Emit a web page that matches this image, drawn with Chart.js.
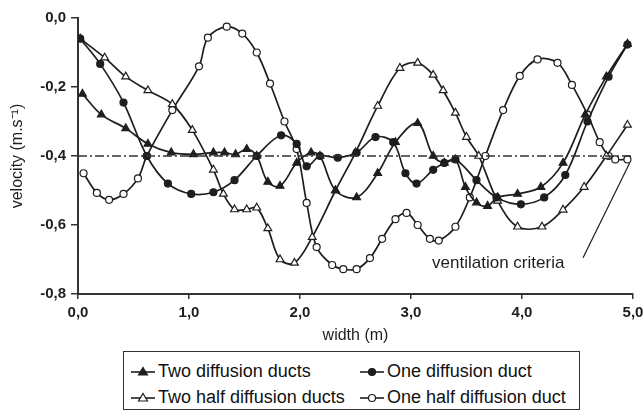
<!DOCTYPE html>
<html>
<head>
<meta charset="utf-8">
<script src="https://cdn.jsdelivr.net/npm/chart.js@4.4.1/dist/chart.umd.min.js"></script>
<style>
  body { margin: 0; background: #fff; font-family: "Liberation Sans", Arial, sans-serif; }
  #wrap { position: relative; width: 643px; height: 412px; }
  #chart { position: absolute; left: 0; top: 0; }
  .legend { position: absolute; left: 123px; top: 351px; width: 457px; height: 59px;
            border: 1.5px solid #333; box-sizing: border-box; color: #111; font-size: 18px; }
  .item { position: absolute; display: flex; align-items: center; white-space: nowrap; }
  .item svg { margin-right: 3px; }
</style>
</head>
<body>
<div id="wrap">
  <canvas id="chart" width="643" height="345"></canvas>
  <div class="legend" id="legend"></div>
</div>
<script>
// width positions (m) and velocities (m/s)
const twoDuctsX = [0.04,0.21,0.43,0.63,0.84,1.04,1.22,1.32,1.42,1.52,1.61,1.71,1.82,1.97,2.10,2.18,2.32,2.51,2.70,2.86,3.06,3.20,3.30,3.40,3.49,3.59,3.69,3.78,3.96,4.17,4.37,4.57,4.76,4.95];
const twoDuctsY = [-0.22,-0.28,-0.32,-0.365,-0.39,-0.395,-0.39,-0.39,-0.395,-0.38,-0.40,-0.475,-0.487,-0.42,-0.39,-0.40,-0.50,-0.52,-0.45,-0.36,-0.305,-0.40,-0.42,-0.41,-0.49,-0.535,-0.545,-0.52,-0.51,-0.49,-0.42,-0.28,-0.17,-0.075];

const oneDuctX = [0.02,0.20,0.41,0.62,0.81,1.02,1.22,1.41,1.61,1.83,1.97,2.06,2.18,2.34,2.51,2.68,2.84,2.95,3.05,3.20,3.30,3.40,3.59,3.77,3.99,4.20,4.39,4.59,4.78,4.95];
const oneDuctY = [-0.06,-0.133,-0.245,-0.40,-0.48,-0.51,-0.505,-0.47,-0.40,-0.34,-0.365,-0.43,-0.40,-0.405,-0.39,-0.345,-0.36,-0.45,-0.48,-0.44,-0.42,-0.41,-0.47,-0.52,-0.54,-0.52,-0.455,-0.30,-0.17,-0.077];

const twoHalfX = [0.02,0.24,0.43,0.63,0.85,1.03,1.22,1.31,1.41,1.52,1.61,1.71,1.82,1.95,2.11,2.32,2.50,2.70,2.90,3.06,3.20,3.29,3.40,3.50,3.61,3.78,3.96,4.18,4.37,4.56,4.76,4.95];
const twoHalfY = [-0.06,-0.115,-0.17,-0.21,-0.25,-0.325,-0.44,-0.51,-0.555,-0.555,-0.55,-0.61,-0.70,-0.71,-0.635,-0.50,-0.39,-0.255,-0.145,-0.13,-0.165,-0.21,-0.275,-0.345,-0.40,-0.53,-0.605,-0.605,-0.556,-0.49,-0.40,-0.31];

const oneHalfX = [0.05,0.17,0.28,0.41,0.54,0.62,0.85,1.09,1.17,1.34,1.48,1.61,1.73,1.86,1.97,2.06,2.15,2.29,2.39,2.51,2.63,2.74,2.86,2.96,3.06,3.17,3.25,3.40,3.53,3.67,3.83,3.98,4.14,4.32,4.45,4.59,4.70,4.78,4.84,4.95];
const oneHalfY = [-0.45,-0.507,-0.527,-0.51,-0.465,-0.40,-0.267,-0.14,-0.057,-0.025,-0.045,-0.10,-0.19,-0.30,-0.38,-0.536,-0.664,-0.716,-0.728,-0.728,-0.696,-0.64,-0.583,-0.565,-0.60,-0.64,-0.645,-0.605,-0.52,-0.40,-0.267,-0.168,-0.12,-0.13,-0.194,-0.28,-0.36,-0.40,-0.41,-0.41];

const criteriaX = [0, 5];
const criteriaY = [-0.4, -0.4];
const pointerX = [4.55, 4.97];
const pointerY = [-0.695, -0.42];

const seriesNames = ['Two diffusion ducts', 'One diffusion duct', 'Two half diffusion ducts', 'One half diffusion duct'];
const xTicks = [0, 1, 2, 3, 4, 5];
const yTicks = [0, -0.2, -0.4, -0.6, -0.8];

const ink = '#1e1e1e';
const pts = (xs, ys) => xs.map((x, i) => ({ x: x, y: ys[i] }));
const fmt = v => (Math.abs(v) < 1e-9 ? 0 : v).toFixed(1).replace('.', ',');

const styles = [
  { pointStyle: 'triangle', radius: 4.5, fill: ink },
  { pointStyle: 'circle', radius: 3.5, fill: ink },
  { pointStyle: 'triangle', radius: 4.5, fill: '#fff' },
  { pointStyle: 'circle', radius: 3.5, fill: '#fff' }
];
const seriesData = [pts(twoDuctsX, twoDuctsY), pts(oneDuctX, oneDuctY), pts(twoHalfX, twoHalfY), pts(oneHalfX, oneHalfY)];

const datasets = seriesData.map((d, i) => ({
  label: seriesNames[i],
  data: d,
  borderColor: ink,
  borderWidth: 1.7,
  backgroundColor: styles[i].fill,
  pointStyle: styles[i].pointStyle,
  pointRadius: styles[i].radius,
  pointBorderWidth: 1.2,
  pointBorderColor: ink,
  pointBackgroundColor: styles[i].fill,
  tension: 0.35,
  fill: false
}));

datasets.unshift({
  label: 'criteria',
  data: pts(criteriaX, criteriaY),
  borderColor: '#333',
  borderWidth: 1.6,
  borderDash: [9, 3, 2, 3],
  pointRadius: 0,
  tension: 0
});
datasets.push({
  label: 'pointer',
  data: pts(pointerX, pointerY),
  borderColor: ink,
  borderWidth: 1.2,
  pointRadius: 0,
  tension: 0
});

const noteText = {
  id: 'noteText',
  afterDatasetsDraw(chart) {
    const { ctx, scales } = chart;
    ctx.save();
    ctx.font = '17px "Liberation Sans", Arial, sans-serif';
    ctx.fillStyle = ink;
    ctx.textBaseline = 'middle';
    ctx.fillText('ventilation criteria', scales.x.getPixelForValue(3.19), scales.y.getPixelForValue(-0.71));
    ctx.restore();
  }
};

new Chart(document.getElementById('chart'), {
  type: 'line',
  data: { datasets: datasets },
  options: {
    responsive: false,
    animation: false,
    layout: { padding: { top: 18, right: 10, left: 0, bottom: 0 } },
    plugins: { legend: { display: false }, tooltip: { enabled: false } },
    scales: {
      x: {
        type: 'linear',
        min: 0, max: 5,
        afterBuildTicks: s => { s.ticks = xTicks.map(v => ({ value: v })); },
        afterFit: s => { s.height = 51; s.paddingRight = 0; s.paddingLeft = 0; },
        ticks: { callback: fmt, color: ink, padding: 5, maxRotation: 0,
                 font: { family: '"Liberation Sans", Arial', size: 15, weight: 'bold' } },
        grid: { drawOnChartArea: false, tickLength: 5, color: '#333', lineWidth: 1.5 },
        border: { color: '#333', width: 2 },
        title: { display: true, text: 'width (m)', color: ink, padding: { top: 0, bottom: 0 },
                 font: { family: '"Liberation Sans", Arial', size: 16 } }
      },
      y: {
        min: -0.8, max: 0,
        afterBuildTicks: s => { s.ticks = yTicks.map(v => ({ value: v })); },
        afterFit: s => { s.width = 78; },
        ticks: { callback: fmt, color: ink, padding: 5,
                 font: { family: '"Liberation Sans", Arial', size: 15, weight: 'bold' } },
        grid: { drawOnChartArea: false, tickLength: 7, color: '#333', lineWidth: 1.5 },
        border: { color: '#333', width: 2 },
        title: { display: true, text: 'velocity (m.s\u207B\u00B9)', color: ink, padding: { top: 8, bottom: 4 },
                 font: { family: '"Liberation Sans", Arial', size: 16 } }
      }
    }
  },
  plugins: [noteText]
});

// legend with line + marker samples
const legendPos = [[7, 9], [236, 9], [7, 35], [236, 35]];
const legend = document.getElementById('legend');
seriesNames.forEach((name, i) => {
  const st = styles[i];
  const mark = st.pointStyle === 'circle'
    ? `<circle cx="12" cy="8" r="3.5" fill="${st.fill}" stroke="${ink}" stroke-width="1.2"/>`
    : `<polygon points="12,3.5 16.5,11 7.5,11" fill="${st.fill}" stroke="${ink}" stroke-width="1.2"/>`;
  const el = document.createElement('div');
  el.className = 'item';
  el.style.left = legendPos[i][0] + 'px';
  el.style.top = legendPos[i][1] + 'px';
  el.innerHTML = `<svg width="24" height="16"><line x1="0" y1="8" x2="24" y2="8" stroke="${ink}" stroke-width="1.6"/>${mark}</svg><span>${name}</span>`;
  legend.appendChild(el);
});
</script>
</body>
</html>
